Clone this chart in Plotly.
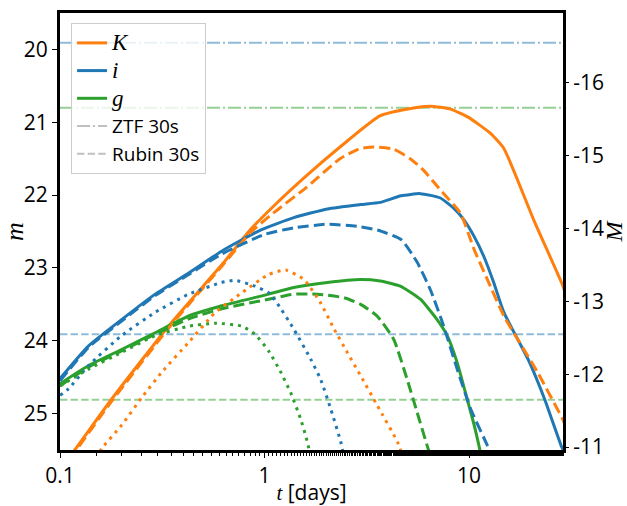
import plotly.graph_objects as go

# Kilonova light curves: apparent magnitude m vs. time since merger t [days]
DIST_MOD = 36.46  # m - M

ORANGE = "#ff7f0e"
BLUE = "#1f77b4"
GREEN = "#2ca02c"

# ---- K band ----
k_solid_t = [0.100, 0.118, 0.179, 0.339, 0.63, 0.85, 1.10, 1.61, 2.34, 3.68, 5.19, 6.46, 8.13, 9.89, 12.7, 14.8, 20.7, 28.6, 30.0]
k_solid_m = [25.76, 25.50, 24.80, 23.80, 22.93, 22.48, 22.16, 21.73, 21.34, 20.91, 20.81, 20.78, 20.82, 20.93, 21.15, 21.36, 22.34, 23.23, 23.40]

k_dash_t = [0.100, 0.118, 0.179, 0.339, 0.63, 0.85, 1.10, 1.61, 2.34, 2.94, 3.41, 4.28, 5.16, 6.0, 7.24, 9.08, 10.6, 12.3, 14.8, 21.6, 28.6, 30.0]
k_dash_m = [25.80, 25.53, 24.83, 23.83, 22.95, 22.52, 22.25, 21.89, 21.50, 21.36, 21.34, 21.37, 21.50, 21.66, 21.93, 22.25, 22.75, 23.16, 23.66, 24.43, 25.07, 25.20]

k_dot_t = [0.150, 0.160, 0.200, 0.251, 0.315, 0.426, 0.575, 0.776, 1.047, 1.27, 1.56, 1.88, 2.19, 2.54, 2.95, 3.56, 4.47, 4.75]
k_dot_m = [25.62, 25.48, 25.16, 24.78, 24.43, 24.02, 23.61, 23.34, 23.09, 23.03, 23.16, 23.48, 23.84, 24.16, 24.48, 24.89, 25.39, 25.60]

# ---- i band ----
i_solid_t = [0.100, 0.138, 0.200, 0.292, 0.426, 0.617, 0.955, 1.39, 2.03, 2.95, 3.68, 4.65, 5.78, 7.24, 8.41, 9.44, 10.6, 11.8, 13.2, 14.8, 19.4, 23.4, 28.2, 30.0]
i_solid_m = [24.52, 24.07, 23.71, 23.36, 23.07, 22.77, 22.48, 22.31, 22.19, 22.13, 22.10, 22.01, 21.98, 22.04, 22.18, 22.34, 22.57, 22.84, 23.20, 23.61, 24.25, 24.80, 25.44, 25.60]

i_dash_t = [0.100, 0.138, 0.200, 0.292, 0.426, 0.617, 1.0, 1.39, 2.03, 2.85, 3.56, 4.65, 5.57, 6.47, 7.52, 8.75, 10.2, 12.3, 13.0]
i_dash_m = [24.55, 24.09, 23.73, 23.38, 23.09, 22.81, 22.54, 22.45, 22.40, 22.43, 22.48, 22.61, 22.92, 23.30, 23.80, 24.39, 24.94, 25.44, 25.60]

i_dot_t = [0.100, 0.110, 0.138, 0.200, 0.292, 0.426, 0.617, 0.716, 0.898, 1.047, 1.15, 1.39, 1.68, 1.88, 2.11, 2.36, 2.45]
i_dot_m = [24.75, 24.66, 24.34, 23.93, 23.61, 23.36, 23.20, 23.17, 23.25, 23.34, 23.48, 23.84, 24.25, 24.53, 24.94, 25.39, 25.60]

# ---- g band ----
g_solid_t = [0.100, 0.138, 0.200, 0.292, 0.426, 0.617, 1.047, 1.39, 2.03, 2.95, 3.68, 4.61, 5.78, 6.98, 7.82, 8.75, 9.79, 10.6, 11.3, 11.5]
g_solid_m = [24.59, 24.34, 24.12, 23.89, 23.66, 23.52, 23.36, 23.27, 23.20, 23.16, 23.18, 23.25, 23.43, 23.71, 23.93, 24.30, 24.80, 25.16, 25.50, 25.60]

g_dash_t = [0.100, 0.138, 0.200, 0.292, 0.426, 0.617, 1.047, 1.39, 1.81, 2.45, 2.95, 3.55, 4.28, 4.98, 5.57, 6.24, 6.50]
g_dash_m = [24.62, 24.36, 24.14, 23.91, 23.70, 23.56, 23.43, 23.36, 23.36, 23.41, 23.50, 23.66, 23.98, 24.53, 24.98, 25.44, 25.60]

g_dot_t = [0.100, 0.138, 0.200, 0.292, 0.426, 0.575, 0.776, 0.898, 1.047, 1.20, 1.34, 1.50, 1.62, 1.68]
g_dot_m = [24.62, 24.39, 24.16, 23.93, 23.80, 23.76, 23.80, 23.91, 24.14, 24.43, 24.71, 25.07, 25.39, 25.60]

# ---- survey 30 s limiting magnitudes ----
ztf_limits = {"i": 19.91, "g": 20.80}
rubin_limits = {"i": 23.91, "g": 24.81}

M_RANGE = (25.5, 19.5)
ABS_TICKS = [-16, -15, -14, -13, -12, -11]
APP_TICKS = [20, 21, 22, 23, 24, 25]

SERIF = "Liberation Serif"
SANS = "Open Sans"


def math(s, size=None):
    style = f"font-family:'{SERIF}'"
    if size:
        style += f";font-size:{size}px"
    return f"<span style=\"{style}\"><i>{s}</i></span>"


fig = go.Figure()

LW = 3
DASH = "11px,5px"
DOT = "3px,5px"

curves = [
    (k_solid_t, k_solid_m, ORANGE, "solid", math("K", 23), True),
    (i_solid_t, i_solid_m, BLUE, "solid", math("i", 23), True),
    (g_solid_t, g_solid_m, GREEN, "solid", math("g", 23), True),
    (k_dash_t, k_dash_m, ORANGE, DASH, None, False),
    (i_dash_t, i_dash_m, BLUE, DASH, None, False),
    (g_dash_t, g_dash_m, GREEN, DASH, None, False),
    (k_dot_t, k_dot_m, ORANGE, DOT, None, False),
    (i_dot_t, i_dot_m, BLUE, DOT, None, False),
    (g_dot_t, g_dot_m, GREEN, DOT, None, False),
]

for t, m, col, dash, name, show in curves:
    fig.add_trace(go.Scatter(
        x=t, y=m, mode="lines", name=name, showlegend=show,
        line=dict(color=col, width=LW, dash=dash, shape="spline", smoothing=0.5),
        hoverinfo="skip",
    ))

# limiting-magnitude lines
band_rgba = {"i": "rgba(31,119,180,0.5)", "g": "rgba(44,160,44,0.5)"}
DASHDOT = "13px,3px,2px,3px"
RUBIN_DASH = "7.4px,3.2px"
for band, lim in ztf_limits.items():
    fig.add_shape(type="line", xref="x domain", yref="y", x0=0, x1=1, y0=lim, y1=lim,
                  line=dict(color=band_rgba[band], width=2, dash=DASHDOT), layer="below")
for band, lim in rubin_limits.items():
    fig.add_shape(type="line", xref="x domain", yref="y", x0=0, x1=1, y0=lim, y1=lim,
                  line=dict(color=band_rgba[band], width=2, dash=RUBIN_DASH), layer="below")

# legend keys for the survey lines
fig.add_trace(go.Scatter(x=[None], y=[None], mode="lines", name="ZTF 30s",
                         line=dict(color="#c0c0c0", width=2, dash=DASHDOT)))
fig.add_trace(go.Scatter(x=[None], y=[None], mode="lines", name="Rubin 30s",
                         line=dict(color="#c0c0c0", width=2, dash=RUBIN_DASH)))

# absolute-magnitude axis carrier
fig.add_trace(go.Scatter(x=[None], y=[None], yaxis="y2", showlegend=False, hoverinfo="skip"))

fig.update_layout(
    width=627, height=506,
    margin=dict(l=60, r=64, t=13, b=56),
    paper_bgcolor="white", plot_bgcolor="white",
    font=dict(family=SANS, size=21, color="black"),
    showlegend=True,
    legend=dict(
        x=0.022, y=0.977, xanchor="left", yanchor="top",
        bgcolor="rgba(255,255,255,0.8)", bordercolor="#cccccc", borderwidth=1,
        font=dict(family=SANS, size=19), tracegroupgap=0,
    ),
    xaxis=dict(
        type="log", range=[-1, 1.4594], automargin=False,
        tickvals=[0.1, 1, 10], ticktext=["0.1", "1", "10"],
        ticks="outside", ticklen=5, tickwidth=1.2, tickcolor="black",
        minor=dict(ticks="outside", ticklen=3, tickwidth=1, tickcolor="black", showgrid=False),
        showgrid=False, zeroline=False,
        showline=True, mirror=True, linewidth=3, linecolor="black",
        title=dict(text=math("t") + " [days]", standoff=6, font=dict(size=21)),
    ),
    yaxis=dict(
        range=list(M_RANGE), automargin=False,
        tickvals=APP_TICKS, ticktext=[str(v) for v in APP_TICKS],
        ticks="outside", ticklen=5, tickwidth=1.2, tickcolor="black",
        showgrid=False, zeroline=False,
        showline=True, mirror=True, linewidth=3, linecolor="black",
        title=dict(text=math("m"), standoff=12, font=dict(size=26)),
    ),
    yaxis2=dict(
        overlaying="y", side="right", anchor="x", automargin=False,
        range=[M_RANGE[0] - DIST_MOD, M_RANGE[1] - DIST_MOD],
        tickvals=ABS_TICKS, ticktext=[str(v) for v in ABS_TICKS],
        ticks="outside", ticklen=5, tickwidth=1.2, tickcolor="black",
        showgrid=False, zeroline=False, showline=False,
        title=dict(text=math("M"), standoff=4, font=dict(size=24)),
    ),
)

fig.write_html("out.html")
